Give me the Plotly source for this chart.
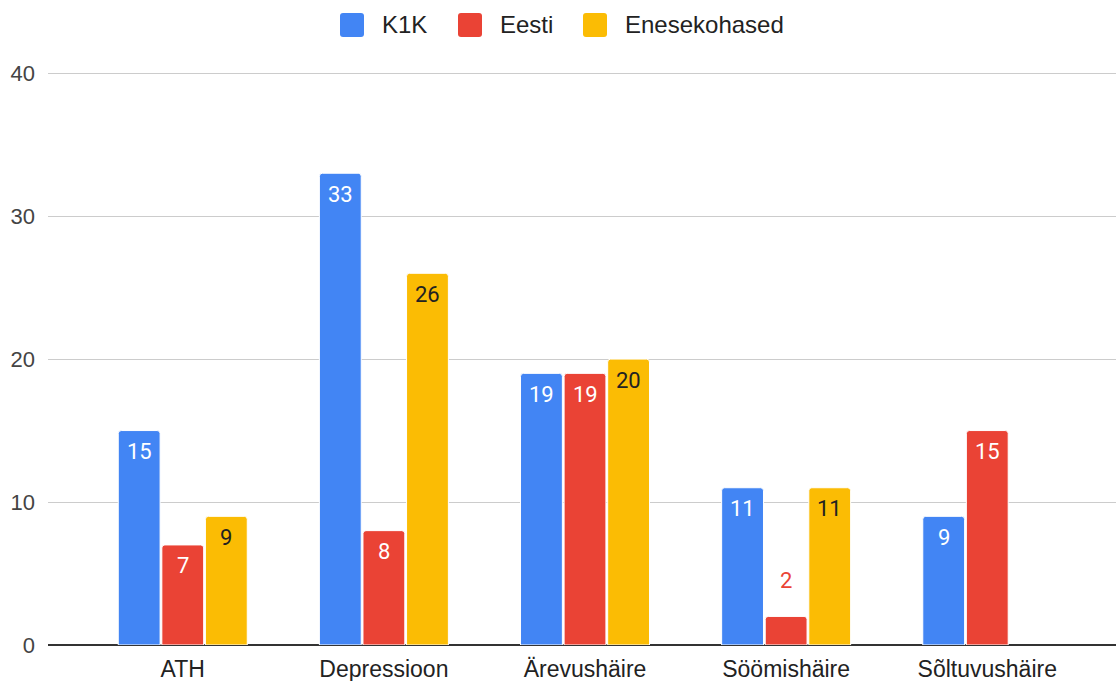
import plotly.graph_objects as go

categories = ["ATH", "Depressioon", "Ärevushäire", "Söömishäire", "Sõltuvushäire"]
k1k = [15, 33, 19, 11, 9]
eesti = [7, 8, 19, 2, 15]
enesekohased = [9, 26, 20, 11, None]

series = [
    ("K1K", k1k, "#4285F4", "#ffffff"),
    ("Eesti", eesti, "#EA4335", "#ffffff"),
    ("Enesekohased", enesekohased, "#FBBC04", "#222222"),
]

W, H = 1116, 681
M_L, M_R, M_T, M_B = 48, 0, 72, 36
BARGAP = 0.35
SMALL = 3  # values below this get their label above the bar
AXIS_FONT = "Liberation Sans, Arial, sans-serif"
LABEL_FONT = "Roboto, sans-serif"

fig = go.Figure()
for name, vals, color, _ in series:
    fig.add_trace(go.Bar(
        name=name, x=categories, y=vals,
        marker=dict(color=color, line=dict(color="#ffffff", width=1)),
        showlegend=False,
    ))

# value labels: inside near the bar top, or above it for short bars
slot = (1 - BARGAP) / len(series)
annotations = []
for j, (name, vals, color, txtcolor) in enumerate(series):
    for i, v in enumerate(vals):
        if v is None:
            continue
        xpos = i + (j - (len(series) - 1) / 2) * slot
        inside = v >= SMALL
        annotations.append(dict(
            x=xpos, y=v, xref="x", yref="y",
            text=str(v), showarrow=False,
            yshift=-21 if inside else 36,
            font=dict(family=LABEL_FONT, size=22, color=txtcolor if inside else color),
        ))

# legend drawn as rounded swatches + text, centred above the plot
plot_w = W - M_L - M_R
plot_h = H - M_T - M_B


def px_x(x):
    return (x - M_L) / plot_w


def px_y(y):
    return (H - M_B - y) / plot_h


def rounded_rect(x0, y0, x1, y1, r):
    X0, X1 = px_x(x0), px_x(x1)
    Y0, Y1 = px_y(y0), px_y(y1)
    rx, ry = r / plot_w, r / plot_h
    return (f"M{X0 + rx},{Y0} L{X1 - rx},{Y0} Q{X1},{Y0} {X1},{Y0 - ry} "
            f"L{X1},{Y1 + ry} Q{X1},{Y1} {X1 - rx},{Y1} L{X0 + rx},{Y1} "
            f"Q{X0},{Y1} {X0},{Y1 + ry} L{X0},{Y0 - ry} Q{X0},{Y0} {X0 + rx},{Y0} Z")


legend_swatch_x = [340, 458, 583]
legend_text_x = [380, 498, 623]
shapes = []
for (name, _, color, _), sx, tx in zip(series, legend_swatch_x, legend_text_x):
    shapes.append(dict(type="path", xref="paper", yref="paper",
                       path=rounded_rect(sx, 13, sx + 24, 37, 3),
                       fillcolor=color, line=dict(width=0)))
    annotations.append(dict(x=px_x(tx), y=px_y(25), xref="paper", yref="paper",
                            xanchor="left", yanchor="middle", showarrow=False,
                            text=name, font=dict(family=AXIS_FONT, size=24, color="#222222")))

fig.update_layout(
    width=W, height=H,
    margin=dict(l=M_L, r=M_R, t=M_T, b=M_B),
    paper_bgcolor="#ffffff", plot_bgcolor="#ffffff",
    barmode="group", bargap=BARGAP, bargroupgap=0.04,
    barcornerradius=3,
    font=dict(family=AXIS_FONT, size=22, color="#222222"),
    showlegend=False,
    xaxis=dict(type="category", range=[-0.67, 4.64], showgrid=False,
               ticks="", tickfont=dict(size=23, color="#222222"),
               showline=False, ticklabelstandoff=8, fixedrange=True),
    yaxis=dict(range=[0, 40.08], tickvals=[0, 10, 20, 30, 40], showgrid=True,
               gridcolor="#cccccc", gridwidth=1, zeroline=True,
               zerolinecolor="#333333", zerolinewidth=2,
               tickfont=dict(size=22, color="#444444"), ticks="",
               ticklabelstandoff=12, fixedrange=True),
    annotations=annotations,
    shapes=shapes,
)

fig.write_html("out.html")
